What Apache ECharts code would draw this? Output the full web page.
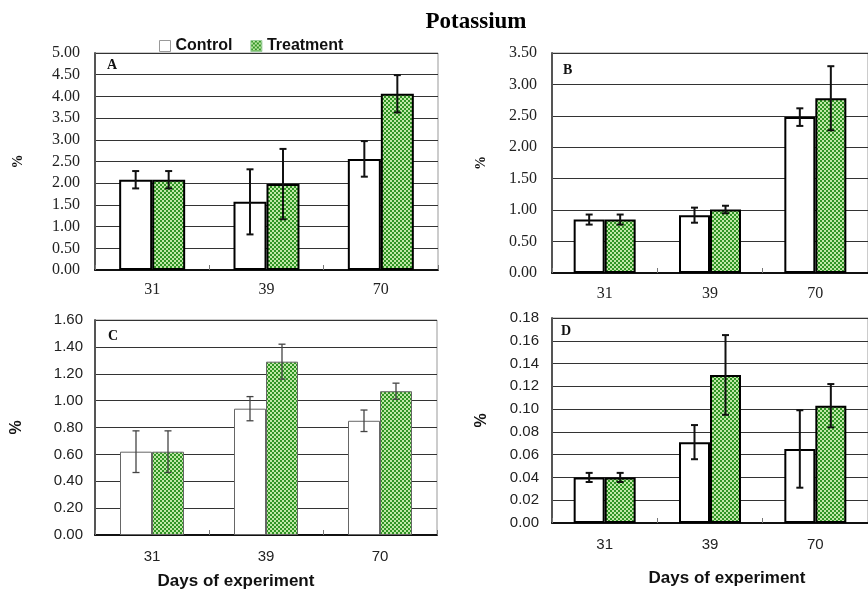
<!DOCTYPE html>
<html><head><meta charset="utf-8">
<script src="https://cdn.jsdelivr.net/npm/echarts@6/dist/echarts.min.js"></script>
<style>html,body{margin:0;padding:0;background:#fff}#c{width:868px;height:593px}</style>
</head><body><div id="c"></div>
<script>
const categories = ['31', '39', '70'];

const A_control = [2.08, 1.57, 2.56];
const A_controlErr = [0.20, 0.75, 0.41];
const A_treat = [2.08, 1.98, 4.06];
const A_treatErr = [0.20, 0.81, 0.43];

const B_control = [0.85, 0.92, 2.48];
const B_controlErr = [0.08, 0.12, 0.14];
const B_treat = [0.85, 1.01, 2.78];
const B_treatErr = [0.08, 0.06, 0.51];

const C_control = [0.62, 0.94, 0.85];
const C_controlErr = [0.155, 0.09, 0.08];
const C_treat = [0.62, 1.29, 1.07];
const C_treatErr = [0.155, 0.13, 0.06];

const D_control = [0.040, 0.071, 0.065];
const D_controlErr = [0.004, 0.015, 0.034];
const D_treat = [0.040, 0.130, 0.103];
const D_treatErr = [0.004, 0.035, 0.019];

const yMax = [5.0, 3.5, 1.6, 0.18];
const yInterval = [0.5, 0.5, 0.2, 0.02];

// checker pattern for treatment bars
const pc = document.createElement('canvas');
pc.width = 4; pc.height = 4;
const pctx = pc.getContext('2d');
pctx.fillStyle = '#bfe8a6'; pctx.fillRect(0, 0, 4, 4);
pctx.fillStyle = '#2f9424'; pctx.fillRect(0, 0, 2, 2); pctx.fillRect(2, 2, 2, 2);
const greenPattern = { image: pc, repeat: 'repeat' };

const panels = [
  { grid: { left: 95, top: 53, width: 343, height: 217 }, ctrl: A_control, ctrlE: A_controlErr, tr: A_treat, trE: A_treatErr, serif: true, fs: 16, bw: 33, nameGap: 70, ymargin: 15, xmargin: 12, border: '#000', bwid: 2, ecol: '#111', ew: 2 },
  { grid: { left: 552, top: 53, width: 325, height: 220 }, ctrl: B_control, ctrlE: B_controlErr, tr: B_treat, trE: B_treatErr, serif: true, fs: 16, bw: 31, nameGap: 64, ymargin: 15, xmargin: 13, border: '#000', bwid: 2, ecol: '#111', ew: 2 },
  { grid: { left: 95, top: 320, width: 342, height: 215 }, ctrl: C_control, ctrlE: C_controlErr, tr: C_treat, trE: C_treatErr, serif: false, fs: 15, bw: 32, nameGap: 70, ymargin: 12, xmargin: 14, border: '#666', bwid: 1, ecol: '#444', ew: 1.3 },
  { grid: { left: 552, top: 318, width: 325, height: 205 }, ctrl: D_control, ctrlE: D_controlErr, tr: D_treat, trE: D_treatErr, serif: false, fs: 15, bw: 31, nameGap: 62, ymargin: 13, xmargin: 14, border: '#000', bwid: 2, ecol: '#111', ew: 2 }
];

function errRender(offset, color, width) {
  return function (params, api) {
    const x = api.value(0), v = api.value(1), e = api.value(2);
    const hi = api.coord([x, v + e]);
    const lo = api.coord([x, v - e]);
    const cx = hi[0] + offset;
    const cap = 3.5;
    const st = { stroke: color, lineWidth: width };
    return { type: 'group', children: [
      { type: 'line', shape: { x1: cx, y1: hi[1], x2: cx, y2: lo[1] }, style: st },
      { type: 'line', shape: { x1: cx - cap, y1: hi[1], x2: cx + cap, y2: hi[1] }, style: st },
      { type: 'line', shape: { x1: cx - cap, y1: lo[1], x2: cx + cap, y2: lo[1] }, style: st }
    ]};
  };
}

const grids = [], xAxes = [], yAxes = [], series = [];
panels.forEach((p, i) => {
  const font = p.serif ? '"Liberation Serif", "Times New Roman", serif' : '"Liberation Sans", Arial, sans-serif';
  grids.push(Object.assign({ show: true, borderColor: '#999', borderWidth: 1, backgroundColor: 'transparent' }, p.grid));
  xAxes.push({
    type: 'category', gridIndex: i, data: categories, boundaryGap: true,
    axisLine: { lineStyle: { color: '#111', width: 2 } },
    axisTick: { show: true, inside: true, length: 5, lineStyle: { color: '#777', width: 1 } },
    axisLabel: { margin: p.xmargin, fontSize: p.fs, color: '#222', fontFamily: font }
  });
  yAxes.push({
    type: 'value', gridIndex: i, min: 0, max: yMax[i], interval: yInterval[i],
    name: '%', nameLocation: 'middle', nameGap: p.nameGap,
    nameTextStyle: { fontSize: p.serif ? 14 : 16, fontWeight: 'bold', color: '#111', fontFamily: font },
    axisLine: { show: true, lineStyle: { color: '#555', width: 2 } },
    axisTick: { show: false },
    splitLine: { lineStyle: { color: '#333', width: 1 } },
    axisLabel: { margin: p.ymargin, fontSize: p.fs, color: '#222', fontFamily: font,
      formatter: v => v.toFixed(2) }
  });
  series.push({
    type: 'bar', name: 'Control', xAxisIndex: i, yAxisIndex: i, data: p.ctrl,
    barWidth: p.bw, barGap: '0%',
    itemStyle: { color: '#fff', borderColor: p.border, borderWidth: p.bwid }
  });
  series.push({
    type: 'bar', name: 'Treatment', xAxisIndex: i, yAxisIndex: i, data: p.tr,
    barWidth: p.bw, barGap: '0%',
    itemStyle: { color: greenPattern, borderColor: p.border, borderWidth: p.bwid }
  });
  series.push({
    type: 'custom', xAxisIndex: i, yAxisIndex: i, z: 10,
    renderItem: errRender(-p.bw / 2, p.ecol, p.ew),
    encode: { x: 0, y: 1 },
    data: categories.map((c, k) => [k, p.ctrl[k], p.ctrlE[k]])
  });
  series.push({
    type: 'custom', xAxisIndex: i, yAxisIndex: i, z: 10,
    renderItem: errRender(p.bw / 2, p.ecol, p.ew),
    encode: { x: 0, y: 1 },
    data: categories.map((c, k) => [k, p.tr[k], p.trE[k]])
  });
});

const chart = echarts.init(document.getElementById('c'), null, { renderer: 'canvas' });
chart.setOption({
  animation: false,
  backgroundColor: '#fff',
  title: {
    text: 'Potassium', left: 471, top: 6, textAlign: 'center',
    textStyle: { fontFamily: '"Liberation Serif", "Times New Roman", serif', fontWeight: 'bold', fontSize: 23, color: '#000' }
  },
  legend: {
    left: 154, top: 33, itemWidth: 11, itemHeight: 11, itemGap: 18,
    textStyle: { fontFamily: '"Liberation Sans", Arial, sans-serif', fontWeight: 'bold', fontSize: 16, color: '#111' },
    data: [
      { name: 'Control', icon: 'rect', itemStyle: { color: '#fff', borderColor: '#999', borderWidth: 1 } },
      { name: 'Treatment', icon: 'rect', itemStyle: { color: greenPattern, borderColor: '#9c9', borderWidth: 1 } }
    ]
  },
  grid: grids, xAxis: xAxes, yAxis: yAxes, series: series,
  graphic: [
    { type: 'text', left: 107, top: 58, style: { text: 'A', font: 'bold 14px "Liberation Serif", serif', fill: '#111' } },
    { type: 'text', left: 563, top: 63, style: { text: 'B', font: 'bold 14px "Liberation Serif", serif', fill: '#111' } },
    { type: 'text', left: 108, top: 329, style: { text: 'C', font: 'bold 14px "Liberation Serif", serif', fill: '#111' } },
    { type: 'text', left: 561, top: 324, style: { text: 'D', font: 'bold 14px "Liberation Serif", serif', fill: '#111' } },
    { type: 'text', x: 236, y: 581, style: { text: 'Days of experiment', font: 'bold 17px "Liberation Sans", Arial, sans-serif', fill: '#111', textAlign: 'center', textVerticalAlign: 'middle' } },
    { type: 'text', x: 727, y: 578, style: { text: 'Days of experiment', font: 'bold 17px "Liberation Sans", Arial, sans-serif', fill: '#111', textAlign: 'center', textVerticalAlign: 'middle' } }
  ]
});
</script>
</body></html>
